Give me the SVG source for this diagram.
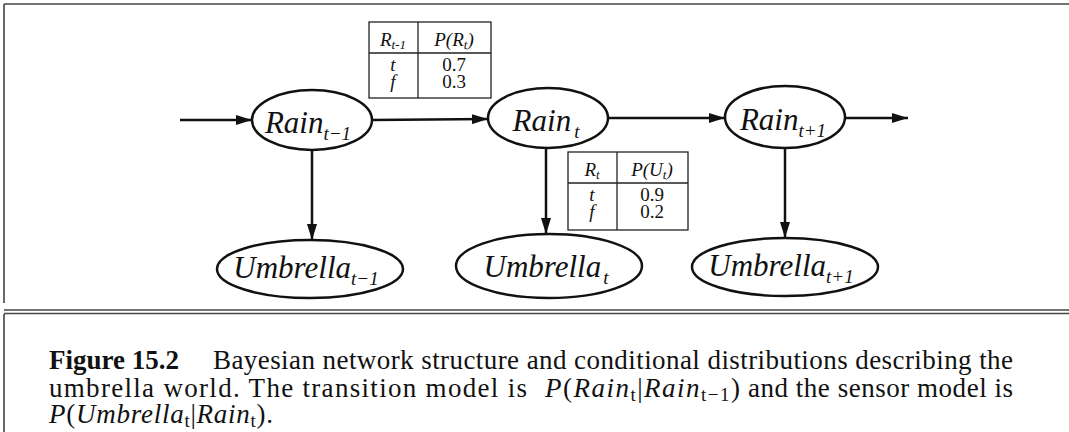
<svg xmlns="http://www.w3.org/2000/svg" width="1069" height="432" viewBox="0 0 1069 432">
<defs>
<style>
.n{fill:none;stroke:#111;stroke-width:2.5}
.lbl{font-family:"Liberation Serif","Times New Roman",serif;font-style:italic;font-size:31px;fill:#111}
.sub{font-size:19px}
.tb{fill:none;stroke:#222;stroke-width:1.3}
.th{font-family:"Liberation Serif","Times New Roman",serif;font-style:italic;font-size:19px;fill:#111}
.tv{font-family:"Liberation Serif","Times New Roman",serif;font-size:19px;fill:#111}
.c{stroke:#111;stroke-width:2.5;fill:none}
.frame{stroke:#444;stroke-width:1.6;fill:none}
.cap{font-family:"Liberation Serif","Times New Roman",serif;font-size:27px;fill:#111}
.m{font-style:italic}
</style>
<marker id="ah" viewBox="0 0 16 10" refX="16" refY="5" markerWidth="16" markerHeight="10" orient="auto" markerUnits="userSpaceOnUse"><path d="M0,0 L16,5 L0,10 Z" fill="#111"/></marker>
</defs>
<rect width="1069" height="432" fill="#fff"/>
<g id="frame">
<line class="frame" x1="4" y1="4" x2="1069" y2="4"/>
<line class="frame" x1="4" y1="4" x2="4" y2="303"/>
<line class="frame" x1="4" y1="310" x2="1069" y2="310"/>
<line class="frame" x1="4" y1="313.5" x2="1069" y2="313.5"/>
<line class="frame" x1="4" y1="314" x2="4" y2="432"/>
</g>
<g id="connectors">
<line class="c" x1="180" y1="120" x2="252" y2="120" marker-end="url(#ah)"/>
<line class="c" x1="372" y1="120" x2="488" y2="119" marker-end="url(#ah)"/>
<line class="c" x1="608" y1="118" x2="725" y2="118" marker-end="url(#ah)"/>
<line class="c" x1="845" y1="118" x2="908" y2="118" marker-end="url(#ah)"/>
<line class="c" x1="312" y1="150" x2="312" y2="240" marker-end="url(#ah)"/>
<line class="c" x1="546" y1="148" x2="546" y2="234" marker-end="url(#ah)"/>
<line class="c" x1="785" y1="148" x2="785" y2="238" marker-end="url(#ah)"/>
</g>
<g id="rain_tm1">
<ellipse class="n" cx="312" cy="120" rx="60" ry="30"/>
<text class="lbl" x="308" y="133" text-anchor="middle">Rain<tspan class="sub" dy="7">t−1</tspan></text>
</g>
<g id="rain_t">
<ellipse class="n" cx="548" cy="118" rx="60" ry="30"/>
<text class="lbl" x="546" y="131" text-anchor="middle">Rain<tspan class="sub" dx="3" dy="7">t</tspan></text>
</g>
<g id="rain_tp1">
<ellipse class="n" cx="785" cy="117" rx="60" ry="31"/>
<text class="lbl" x="783" y="130" text-anchor="middle">Rain<tspan class="sub" dy="7">t+1</tspan></text>
</g>
<g id="umbrella_tm1">
<ellipse class="n" cx="310" cy="269" rx="93" ry="29"/>
<text class="lbl" x="306" y="278" text-anchor="middle">Umbrella<tspan class="sub" dy="7">t−1</tspan></text>
</g>
<g id="umbrella_t">
<ellipse class="n" cx="549" cy="266" rx="93" ry="32"/>
<text class="lbl" x="546" y="277" text-anchor="middle">Umbrella<tspan class="sub" dx="2" dy="7">t</tspan></text>
</g>
<g id="umbrella_tp1">
<ellipse class="n" cx="785" cy="267" rx="93" ry="29"/>
<text class="lbl" x="781" y="276" text-anchor="middle">Umbrella<tspan class="sub" dy="7">t+1</tspan></text>
</g>
<g id="cpt_rain">
<rect class="tb" x="369" y="22" width="122" height="76"/>
<line class="tb" x1="369" y1="53" x2="491" y2="53"/>
<line class="tb" x1="418" y1="22" x2="418" y2="98"/>
<text class="th" x="393" y="46" text-anchor="middle">R<tspan font-size="13" dy="3">t-1</tspan></text>
<text class="th" x="454" y="46" text-anchor="middle">P(R<tspan font-size="13" dy="3">t</tspan><tspan dy="-3">)</tspan></text>
<text class="th" x="393" y="71" text-anchor="middle">t</text>
<text class="tv" x="454" y="71" text-anchor="middle">0.7</text>
<text class="th" x="393" y="88" text-anchor="middle">f</text>
<text class="tv" x="454" y="88" text-anchor="middle">0.3</text>
</g>
<g id="cpt_umbrella">
<rect class="tb" x="568" y="152" width="120" height="78"/>
<line class="tb" x1="568" y1="183" x2="688" y2="183"/>
<line class="tb" x1="617" y1="152" x2="617" y2="230"/>
<text class="th" x="592" y="176" text-anchor="middle">R<tspan font-size="13" dy="3">t</tspan></text>
<text class="th" x="652" y="176" text-anchor="middle">P(U<tspan font-size="13" dy="3">t</tspan><tspan dy="-3">)</tspan></text>
<text class="th" x="592" y="201" text-anchor="middle">t</text>
<text class="tv" x="652" y="201" text-anchor="middle">0.9</text>
<text class="th" x="592" y="218" text-anchor="middle">f</text>
<text class="tv" x="652" y="218" text-anchor="middle">0.2</text>
</g>
<g id="caption">
<text class="cap" x="49" y="369" font-weight="bold">Figure 15.2</text>
<text class="cap" x="213" y="369" textLength="800" lengthAdjust="spacing">Bayesian network structure and conditional distributions describing the</text>
<text class="cap" x="49" y="397" textLength="478" lengthAdjust="spacing">umbrella world.  The transition model is</text>
<text class="cap" x="545" y="397" textLength="195" lengthAdjust="spacing"><tspan class="m">P</tspan>(<tspan class="m">Rain</tspan><tspan font-size="19" dy="4">t</tspan><tspan dy="-4">|</tspan><tspan class="m">Rain</tspan><tspan font-size="19" dy="4">t−1</tspan><tspan dy="-4">)</tspan></text>
<text class="cap" x="748" y="397" textLength="265" lengthAdjust="spacing">and the sensor model is</text>
<text class="cap" x="49" y="423" textLength="224" lengthAdjust="spacing"><tspan class="m">P</tspan>(<tspan class="m">Umbrella</tspan><tspan font-size="19" dy="4">t</tspan><tspan dy="-4">|</tspan><tspan class="m">Rain</tspan><tspan font-size="19" dy="4">t</tspan><tspan dy="-4">).</tspan></text>
</g>
</svg>
